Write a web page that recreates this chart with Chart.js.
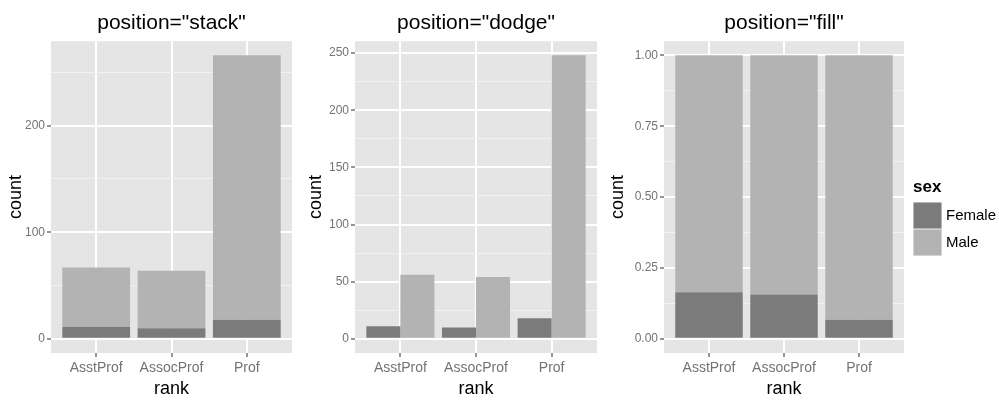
<!DOCTYPE html>
<html>
<head>
<meta charset="utf-8">
<script src="https://cdn.jsdelivr.net/npm/chart.js@4.4.1/dist/chart.umd.min.js"></script>
<style>
  body { margin: 0; background: #fff; }
  #wrap { position: relative; width: 999px; height: 400px; }
  canvas { position: absolute; top: 0; }
</style>
</head>
<body>
<div id="wrap">
  <canvas id="stack" style="left:0px;width:300px;height:400px" width="300" height="400"></canvas>
  <canvas id="dodge" style="left:300px;width:300px;height:400px" width="300" height="400"></canvas>
  <canvas id="fill" style="left:600px;width:399px;height:400px" width="399" height="400"></canvas>
</div>
<script>
// Salaries data, counts by rank and sex
const ranks = ['AsstProf', 'AssocProf', 'Prof'];
const femaleCounts = [11, 10, 18];
const maleCounts = [56, 54, 248];

// y tick values for each panel (major get labels, minor only grid)
const stackMajor = [0, 100, 200];
const stackMinor = [50, 150, 250];
const dodgeMajor = [0, 50, 100, 150, 200, 250];
const dodgeMinor = [25, 75, 125, 175, 225];
const fillMajor = [0, 0.25, 0.5, 0.75, 1];
const fillMinor = [0.125, 0.375, 0.625, 0.875];

const femaleColor = '#7b7b7b';
const maleColor = '#b3b3b3';
const panelBg = '#e5e5e5';
const tickGrey = '#737373';
const FONT = '"Liberation Sans", Arial, Helvetica, sans-serif';

Chart.defaults.font.family = FONT;

// proportions for position="fill"
const femaleShare = femaleCounts.map((f, i) => f / (f + maleCounts[i]));
const maleShare = maleCounts.map((m, i) => m / (femaleCounts[i] + m));

const toPoints = arr => arr.map((v, i) => ({ x: i + 1, y: v }));

// grey panel background behind the grid
const panelBackground = {
  id: 'panelBackground',
  beforeDraw(chart) {
    const a = chart.chartArea;
    const ctx = chart.ctx;
    ctx.save();
    ctx.fillStyle = panelBg;
    ctx.fillRect(a.left, a.top, a.right - a.left, a.bottom - a.top);
    ctx.restore();
  }
};

// ggplot style legend at the right of the last panel
const sexLegend = {
  id: 'sexLegend',
  afterDraw(chart) {
    const ctx = chart.ctx;
    const x0 = chart.chartArea.right + 9;
    let y = 202;
    ctx.save();
    ctx.fillStyle = '#000';
    ctx.font = 'bold 17px ' + FONT;
    ctx.textBaseline = 'alphabetic';
    ctx.fillText('sex', x0, 192);
    ctx.font = '15px ' + FONT;
    ctx.textBaseline = 'middle';
    chart.data.datasets.forEach(ds => {
      ctx.fillStyle = '#f2f2f2';
      ctx.fillRect(x0, y, 29, 27);
      ctx.fillStyle = ds.backgroundColor;
      ctx.fillRect(x0 + 0.5, y + 0.5, 28, 26);
      ctx.fillStyle = '#000';
      ctx.fillText(ds.label, x0 + 33, y + 14);
      y += 27;
    });
    ctx.restore();
  }
};

function makePanel(id, p) {
  const ticks = p.major.concat(p.minor).sort((a, b) => a - b);
  const isMajor = v => p.major.some(m => Math.abs(m - v) < 1e-9);
  const plugins = [panelBackground];
  if (p.legend) plugins.push(sexLegend);

  return new Chart(document.getElementById(id), {
    type: 'bar',
    data: {
      datasets: [
        { label: 'Female', data: toPoints(p.female), backgroundColor: femaleColor, borderWidth: 0 },
        { label: 'Male', data: toPoints(p.male), backgroundColor: maleColor, borderWidth: 0 }
      ]
    },
    options: {
      responsive: false,
      animation: false,
      events: [],
      categoryPercentage: p.catPct,
      barPercentage: p.barPct,
      layout: { padding: { left: 0, right: p.rightPad, top: 0, bottom: 0 } },
      plugins: {
        legend: { display: false },
        tooltip: { enabled: false },
        title: {
          display: true,
          text: p.title,
          fullSize: false,
          color: '#000',
          font: { size: 21, weight: 'normal' },
          padding: { top: 11, bottom: 5 }
        }
      },
      scales: {
        x: {
          type: 'linear',
          min: 0.4,
          max: 3.6,
          offset: false,
          stacked: p.stacked,
          afterBuildTicks: s => { s.ticks = ranks.map((r, i) => ({ value: i + 1 })); },
          afterFit: s => { s.height = 47; },
          ticks: {
            callback: v => ranks[Math.round(v) - 1],
            color: tickGrey,
            font: { size: 14 },
            padding: 3,
            autoSkip: false,
            maxRotation: 0
          },
          grid: { offset: false, color: '#ffffff', lineWidth: 2, tickLength: 4, tickColor: tickGrey, tickWidth: 1.5 },
          border: { display: false },
          title: { display: true, text: 'rank', color: '#000', font: { size: 18 }, padding: { top: 0, bottom: 0 } }
        },
        y: {
          min: p.min,
          max: p.max,
          stacked: p.stacked,
          afterBuildTicks: s => { s.ticks = ticks.map(v => ({ value: v })); },
          afterFit: s => { s.width = p.yWidth; },
          ticks: {
            callback: v => isMajor(v) ? p.fmt(v) : '',
            color: tickGrey,
            font: { size: 12 },
            padding: 2,
            autoSkip: false
          },
          grid: {
            color: c => isMajor(c.tick.value) ? '#ffffff' : '#f2f2f2',
            lineWidth: c => isMajor(c.tick.value) ? 2 : 1,
            tickLength: 4,
            tickWidth: 1.5,
            tickColor: c => isMajor(c.tick.value) ? tickGrey : 'rgba(0,0,0,0)'
          },
          border: { display: false },
          title: { display: true, text: 'count', color: '#000', font: { size: 18 }, padding: { top: p.titlePad, bottom: 0 } }
        }
      }
    },
    plugins: plugins
  });
}

const stackMax = Math.max(...femaleCounts.map((f, i) => f + maleCounts[i]));
const dodgeMax = Math.max(...femaleCounts, ...maleCounts);

makePanel('stack', {
  title: 'position="stack"',
  female: femaleCounts, male: maleCounts,
  stacked: true, catPct: 1, barPct: 0.9,
  min: -0.05 * stackMax, max: 1.05 * stackMax,
  major: stackMajor, minor: stackMinor, fmt: v => String(v),
  yWidth: 51, titlePad: 5, rightPad: 8
});

makePanel('dodge', {
  title: 'position="dodge"',
  female: femaleCounts, male: maleCounts,
  stacked: false, catPct: 0.9, barPct: 1,
  min: -0.05 * dodgeMax, max: 1.05 * dodgeMax,
  major: dodgeMajor, minor: dodgeMinor, fmt: v => String(v),
  yWidth: 55, titlePad: 5, rightPad: 3
});

makePanel('fill', {
  title: 'position="fill"',
  female: femaleShare, male: maleShare,
  stacked: true, catPct: 1, barPct: 0.9,
  min: -0.05, max: 1.05,
  major: fillMajor, minor: fillMinor, fmt: v => v.toFixed(2),
  yWidth: 64, titlePad: 7, rightPad: 95, legend: true
});
</script>
</body>
</html>
